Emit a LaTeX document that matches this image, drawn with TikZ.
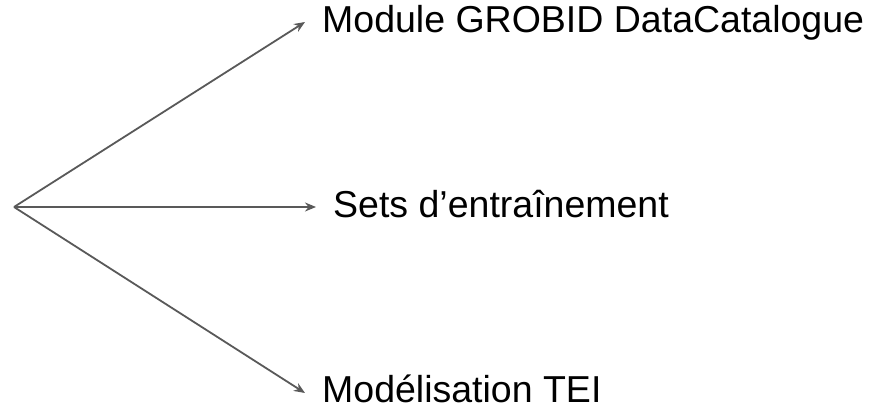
\documentclass[tikz,border=0pt]{standalone}
\usepackage{fontspec}
\setmainfont{Liberation Sans}
\usetikzlibrary{arrows.meta}
\begin{document}
\begin{tikzpicture}[x=1pt,y=-1pt,>={Stealth[length=11pt,width=9pt]},
        fleche/.style={->,draw=black!65,line width=1.8pt},
        etiq/.style={anchor=base west,inner sep=0pt,font=\fontsize{37.5}{40}\selectfont}]
        \useasboundingbox (0,0) rectangle (881,409);
        \coordinate (o) at (14,207);
        \coordinate (p1) at (305,22);
        \coordinate (p2) at (316,207);
        \coordinate (p3) at (305,393);
        \node[etiq] (module) at (322,33) {Module GROBID DataCatalogue};
        \node[etiq] (sets) at (333,217) {Sets d’entraînement};
        \node[etiq] (tei) at (322,402) {Modélisation TEI};
        \draw[fleche] (o)--(p1);
        \draw[fleche] (o)--(p2);
        \draw[fleche] (o)--(p3);
\end{tikzpicture}
\end{document}
